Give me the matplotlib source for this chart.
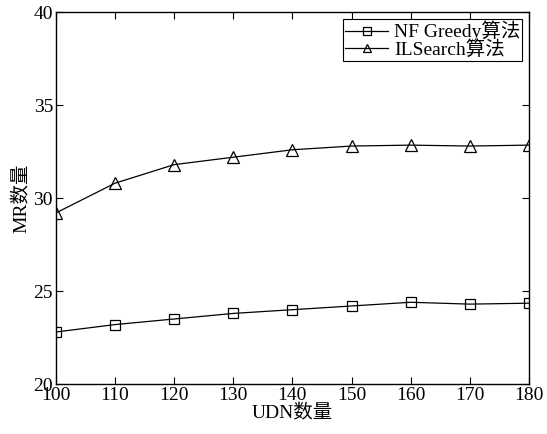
import matplotlib
matplotlib.use('Agg')
from matplotlib import pyplot as plt

# data
udn = [100, 110, 120, 130, 140, 150, 160, 170, 180]
nf_greedy = [22.8, 23.2, 23.5, 23.8, 24.0, 24.2, 24.4, 24.3, 24.35]
ilsearch = [29.2, 30.8, 31.8, 32.2, 32.6, 32.8, 32.85, 32.8, 32.85]

plt.rcParams['font.family'] = ['Liberation Serif', 'Noto Sans CJK SC']
plt.rcParams['font.size'] = 14

fig = plt.figure(figsize=(5.47, 4.34), dpi=100)
ax = fig.add_axes([0.102, 0.115, 0.865, 0.857])

ax.plot(udn, nf_greedy, color='black', linewidth=0.9, marker='s',
        markersize=7, markerfacecolor='none', markeredgecolor='black',
        markeredgewidth=0.9, label='NF Greedy算法')
ax.plot(udn, ilsearch, color='black', linewidth=0.9, marker='^',
        markersize=8, markerfacecolor='none', markeredgecolor='black',
        markeredgewidth=0.9, label='ILSearch算法')

ax.set_xlim(100, 180)
ax.set_ylim(20, 40)
ax.set_xticks(udn)
ax.set_yticks([20, 25, 30, 35, 40])
ax.tick_params(direction='in', top=True, right=True, length=5, width=0.8,
               labelsize=14, pad=2)
for s in ax.spines.values():
    s.set_linewidth(1.0)

ax.set_xlabel('UDN数量', fontsize=14, labelpad=0)
ax.set_ylabel('MR数量', fontsize=14, labelpad=2)

leg = ax.legend(loc='upper right', fontsize=14, fancybox=False, framealpha=1,
                edgecolor='black', borderpad=0.1, labelspacing=-0.05,
                handlelength=2.2, handletextpad=0.3, borderaxespad=0.35,
                markerscale=0.8)
leg.get_frame().set_linewidth(0.8)

fig.savefig('out.png', dpi=100)
